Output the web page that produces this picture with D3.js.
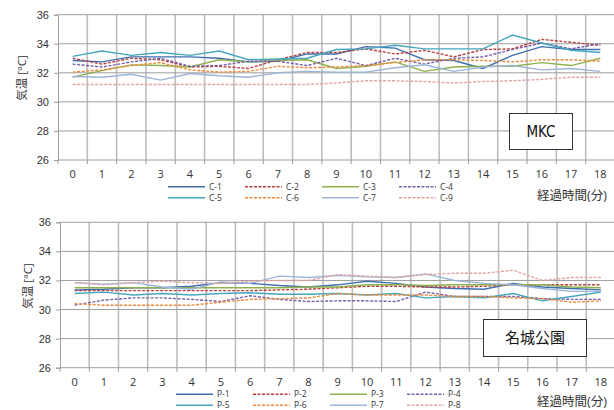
<!DOCTYPE html>
<html>
<head>
<meta charset="utf-8">
<script src="https://cdn.jsdelivr.net/npm/d3@7"></script>
<style>
  body { margin: 0; background: #fff; }
  svg { display: block; font-family: "Open Sans", "Noto Sans CJK JP", sans-serif; }
</style>
</head>
<body>
<div id="chart"></div>
<script>
const minutes = ["0","1","2","3","4","5","6","7","8","9","10","11","12","13","14","15","16","17","18"];
const yTicks = [26, 28, 30, 32, 34, 36];

// MKC
const mkcNames = ["C-1", "C-2", "C-3", "C-4", "C-5", "C-6", "C-7", "C-9"];
const c1 = [32.85,32.75,33.1,33.1,33.1,33.0,32.75,32.8,33.3,33.3,33.8,33.7,32.9,32.85,32.3,33.2,33.8,33.6,33.6];
const c2 = [33.0,32.6,33.0,32.9,32.4,32.45,32.3,32.9,33.4,33.4,33.65,33.3,33.55,33.1,33.6,33.65,34.3,34.1,33.9];
const c3 = [31.7,32.15,32.55,32.5,32.4,32.9,32.75,32.85,32.9,32.3,32.45,32.75,32.1,32.4,32.45,32.45,32.7,32.5,33.0];
const c4 = [32.6,32.4,32.75,33.0,32.45,32.5,32.8,32.8,32.5,33.0,32.5,33.0,32.6,33.0,33.1,33.6,34.05,33.65,34.0];
const c5 = [33.13,33.5,33.2,33.4,33.2,33.5,32.9,32.95,33.0,33.6,33.65,33.9,33.65,33.65,33.65,34.6,34.05,33.55,33.4];
const c6 = [32.05,32.2,32.5,32.7,32.2,32.05,32.1,32.45,32.35,32.4,32.5,32.7,32.9,32.9,32.85,32.75,32.9,32.9,32.8];
const c7 = [31.75,31.7,31.9,31.5,31.95,31.8,31.7,32.0,32.1,32.05,32.05,32.35,32.55,32.1,32.4,32.5,32.2,32.3,32.1];
const c9 = [31.2,31.2,31.2,31.2,31.2,31.2,31.2,31.2,31.2,31.3,31.45,31.45,31.4,31.3,31.4,31.45,31.55,31.7,31.7];

// 名城公園
const parkNames = ["P-1", "P-2", "P-3", "P-4", "P-5", "P-6", "P-7", "P-8"];
const p1 = [31.35,31.4,31.5,31.5,31.6,31.85,31.8,31.65,31.55,31.7,31.95,31.8,31.55,31.45,31.4,31.8,31.55,31.45,31.35];
const p2 = [31.3,31.3,31.3,31.3,31.3,31.3,31.3,31.35,31.4,31.5,31.6,31.6,31.55,31.55,31.6,31.7,31.7,31.7,31.7];
const p3 = [31.5,31.5,31.5,31.5,31.5,31.5,31.5,31.5,31.55,31.55,31.7,31.7,31.65,31.7,31.7,31.7,31.7,31.55,31.5];
const p4 = [30.3,30.65,30.8,30.8,30.7,30.55,30.95,30.7,30.55,30.6,30.6,30.55,31.2,30.9,30.9,30.9,30.75,30.7,30.7];
const p5 = [31.1,31.2,31.0,31.1,31.0,31.1,31.15,31.05,31.05,31.1,31.0,31.1,30.8,30.9,30.8,31.1,30.6,30.9,31.2];
const p6 = [30.4,30.3,30.3,30.3,30.3,30.5,30.7,30.75,30.8,31.1,31.0,31.0,31.0,30.9,30.9,30.8,30.75,30.5,30.6];
const p7 = [31.85,31.75,31.85,31.55,31.4,31.9,31.8,32.3,32.2,32.35,32.25,32.2,32.45,32.0,31.8,31.7,31.45,31.25,31.25];
const p8 = [31.85,31.7,31.85,31.95,31.85,31.8,31.95,32.0,32.0,32.4,32.3,32.2,32.4,32.5,32.5,32.7,32.0,32.2,32.2];

// line styles per series slot
const styles = [
  {color: "#3f6fb0", dash: null},
  {color: "#b8403d", dash: "3,1.5"},
  {color: "#8fb04f", dash: null},
  {color: "#7a5ea8", dash: "3,1.5"},
  {color: "#45a7bf", dash: null},
  {color: "#ef8a3c", dash: "3,1.5"},
  {color: "#9ab5d8", dash: null},
  {color: "#e4a2a2", dash: "3,1.5"}
];

const W = 614, H = 410;
const svg = d3.select("#chart").append("svg")
  .attr("width", W).attr("height", H);

function drawPanel(cfg) {
  const x = d3.scaleBand().domain(minutes).range([cfg.left, cfg.right]).padding(0);
  const y = d3.scaleLinear().domain([26, 36]).range([cfg.bottom, cfg.top]);
  const g = svg.append("g");

  // vertical grid (between categories)
  const bounds = minutes.map(m => x(m)).concat([cfg.right]);
  g.append("g").selectAll("line")
    .data(bounds.slice(1))
    .join("line")
      .attr("x1", d => d).attr("x2", d => d)
      .attr("y1", cfg.top).attr("y2", cfg.bottom)
      .attr("stroke", "#bdbdbd").attr("stroke-width", 1.6);

  // horizontal grid
  g.append("g").selectAll("line")
    .data(yTicks)
    .join("line")
      .attr("x1", cfg.left).attr("x2", cfg.right)
      .attr("y1", d => y(d)).attr("y2", d => y(d))
      .attr("stroke", "#9e9e9e").attr("stroke-width", 1);

  // y axis
  const yAxis = g.append("g")
    .attr("transform", `translate(${cfg.left},0)`)
    .call(d3.axisLeft(y).tickValues(yTicks).tickSize(4).tickPadding(5));
  yAxis.select(".domain").attr("stroke", "#9e9e9e");
  yAxis.selectAll(".tick line").attr("stroke", "#9e9e9e");
  yAxis.selectAll("text").attr("fill", "#333").style("font-size", "11px");

  // x axis tick marks at category bounds
  g.append("g").selectAll("line")
    .data(bounds)
    .join("line")
      .attr("x1", d => d).attr("x2", d => d)
      .attr("y1", cfg.bottom).attr("y2", cfg.bottom + 4)
      .attr("stroke", "#9e9e9e");

  g.append("g").selectAll("text")
    .data(minutes)
    .join("text")
      .attr("x", d => x(d) + x.bandwidth() / 2)
      .attr("y", cfg.bottom + 18)
      .attr("text-anchor", "middle")
      .attr("fill", "#333")
      .style("font-size", "11px")
      .text(d => d);

  // series
  const line = d3.line()
    .x((d, i) => x(minutes[i]) + x.bandwidth() / 2)
    .y(d => y(d));

  cfg.series.forEach((s, i) => {
    g.append("path")
      .datum(s)
      .attr("fill", "none")
      .attr("stroke", styles[i].color)
      .attr("stroke-width", 1.4)
      .attr("stroke-dasharray", styles[i].dash)
      .attr("d", line);
  });

  // y title
  g.append("text")
    .attr("transform", `translate(${cfg.yTitleX},${cfg.yTitleY}) rotate(-90)`)
    .attr("text-anchor", "middle")
    .attr("dy", "0.35em")
    .attr("fill", "#333")
    .style("font-size", "11.5px")
    .text("気温 [°C]");

  // x title
  g.append("text")
    .attr("x", 537).attr("y", cfg.xTitleY)
    .attr("fill", "#333")
    .style("font-size", "12.5px")
    .text("経過時間(分)");

  // legend
  const leg = g.append("g");
  cfg.names.forEach((n, i) => {
    const col = i % 4, row = Math.floor(i / 4);
    const lx = cfg.legX + col * 77, ly = cfg.legY + row * 11;
    leg.append("line")
      .attr("x1", lx).attr("x2", lx + 37)
      .attr("y1", ly).attr("y2", ly)
      .attr("stroke", styles[i].color)
      .attr("stroke-width", 1.4)
      .attr("stroke-dasharray", styles[i].dash);
    leg.append("text")
      .attr("x", lx + 41).attr("y", ly)
      .attr("dy", "0.35em")
      .attr("fill", "#333")
      .style("font-size", "8.5px")
      .text(n);
  });

  // label box
  g.append("rect")
    .attr("x", cfg.box.x).attr("y", cfg.box.y)
    .attr("width", cfg.box.w).attr("height", cfg.box.h)
    .attr("fill", "#fff").attr("stroke", "#333").attr("stroke-width", 1);
  g.append("text")
    .attr("x", cfg.box.x + cfg.box.w / 2).attr("y", cfg.box.y + cfg.box.h / 2)
    .attr("text-anchor", "middle").attr("dy", "0.36em")
    .attr("fill", "#111")
    .style("font-size", cfg.box.size)
    .style("font-family", cfg.box.font)
    .text(cfg.box.label);
}

drawPanel({
  left: 58, right: 615, top: 14.7, bottom: 160,
  series: [c1, c2, c3, c4, c5, c6, c7, c9], names: mkcNames,
  yTitleX: 22, yTitleY: 78, xTitleY: 200,
  legX: 168, legY: 186.7,
  box: {x: 509.5, y: 113.5, w: 63, h: 36, label: "MKC", size: "15px", font: "'Liberation Sans Narrow', 'DejaVu Sans Condensed', sans-serif"}
});

drawPanel({
  left: 60, right: 615.5, top: 222.3, bottom: 367.7,
  series: [p1, p2, p3, p4, p5, p6, p7, p8], names: parkNames,
  yTitleX: 27.5, yTitleY: 286, xTitleY: 406,
  legX: 176, legY: 394.3,
  box: {x: 483.5, y: 319.5, w: 103, h: 37, label: "名城公園", size: "15px", font: "'Noto Sans CJK JP', sans-serif"}
});
</script>
</body>
</html>
